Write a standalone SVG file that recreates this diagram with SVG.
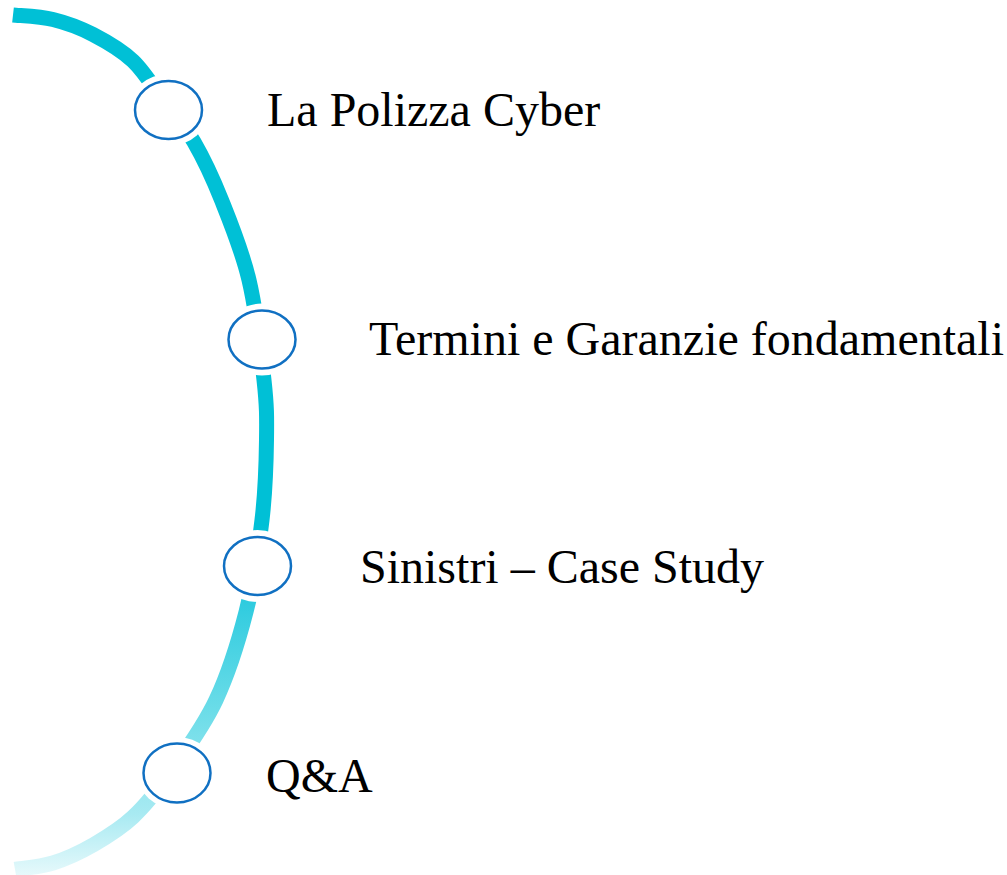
<svg xmlns="http://www.w3.org/2000/svg" width="1007" height="875" viewBox="0 0 1007 875">
<style>
.lbl{font-family:"Liberation Serif","Times New Roman",serif;font-size:48px;fill:#000}
.halo{fill:#fff;stroke:none}
.dot{fill:#fff;stroke:#1070C2;stroke-width:2.5}
</style>
<defs>
<linearGradient id="arcg" gradientUnits="userSpaceOnUse" x1="0" y1="0" x2="0" y2="875">
<stop offset="0" stop-color="#00C0D6"/>
<stop offset="0.6" stop-color="#00C0D6"/>
<stop offset="0.7" stop-color="#35CDE0"/>
<stop offset="0.81" stop-color="#6ADCE8"/>
<stop offset="0.93" stop-color="#A8EAF2"/>
<stop offset="1" stop-color="#E6F9FB"/>
</linearGradient>
</defs>
<rect width="1007" height="875" fill="#fff"/>
<g id="connectors">
<path d="M13 15 C19.7 15.75 39.7 16.25 53 19.5 C66.3 22.75 79.7 27.6 93 34.5 C106.3 41.4 121 49.6 133 61 C145 72.4 154.8 89.5 165 103 C175.2 116.5 184.6 125.8 194 142 C203.4 158.2 212.3 177 221.5 200 C230.7 223 241.9 250 249 280 C256.1 310 261.1 353.3 264 380 C266.9 406.7 266.8 416.7 266.5 440 C266.2 463.3 265.4 491.3 262 520 C258.6 548.7 253.7 582 246 612 C238.3 642 228.3 673.7 216 700 C203.7 726.3 185.8 750.5 172 770 C158.2 789.5 146.2 804.5 133 817 C119.8 829.5 106.3 837.3 93 845 C79.7 852.7 66 858.9 53 863 C40 867.1 21.3 868.4 15 869.5" fill="none" stroke="url(#arcg)" stroke-width="15"/>
</g>
<g id="node1">
<ellipse class="halo" cx="168.5" cy="110" rx="40" ry="36"/>
<ellipse class="dot" cx="168.5" cy="110" rx="33.5" ry="29"/>
<text class="lbl" x="267" y="126">La Polizza Cyber</text>
</g>
<g id="node2">
<ellipse class="halo" cx="262" cy="339.5" rx="40" ry="36"/>
<ellipse class="dot" cx="262" cy="339.5" rx="33.5" ry="29"/>
<text class="lbl" x="369" y="355">Termini e Garanzie fondamentali</text>
</g>
<g id="node3">
<ellipse class="halo" cx="257.5" cy="566" rx="40" ry="36"/>
<ellipse class="dot" cx="257.5" cy="566" rx="33.5" ry="29"/>
<text class="lbl" x="360" y="583">Sinistri – Case Study</text>
</g>
<g id="node4">
<ellipse class="halo" cx="177" cy="773" rx="40" ry="36"/>
<ellipse class="dot" cx="177" cy="773" rx="33.5" ry="29.5"/>
<text class="lbl" x="266" y="792">Q&amp;A</text>
</g>
</svg>
